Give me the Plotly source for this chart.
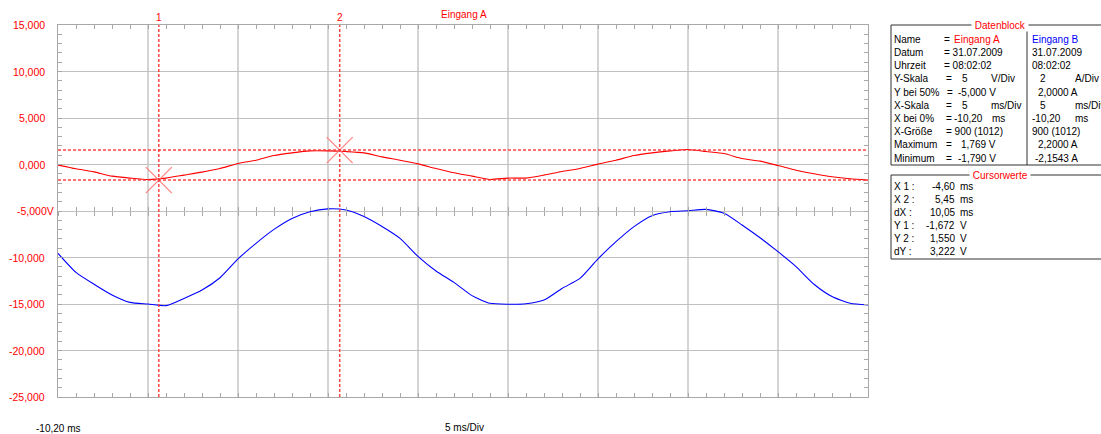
import plotly.graph_objects as go

# ---------------- data ----------------
time_ms = [round(-10.2 + k, 1) for k in range(46)]   # sample grid, 1 ms

ch_a_volt = [-0.07, -0.46, -0.79, -1.25, -1.46, -1.61, -1.46, -1.14, -0.82, -0.43,
             0.11, 0.46, 0.96, 1.25, 1.46, 1.46, 1.39, 1.25, 0.82, 0.46,
             0.07, -0.43, -0.89, -1.25, -1.61, -1.46, -1.46, -1.14, -0.75, -0.43,
             0.04, 0.46, 0.96, 1.25, 1.46, 1.61, 1.39, 1.18, 0.64, 0.36,
             -0.11, -0.61, -1.00, -1.32, -1.54, -1.68]

ch_b_amp = [0.18, -0.64, -1.15, -1.61, -1.93, -2.00, -2.07, -1.76, -1.40, -0.87,
            -0.06, 0.61, 1.21, 1.68, 1.97, 2.09, 2.04, 1.76, 1.33, 0.82,
            0.05, -0.58, -1.07, -1.64, -1.97, -2.01, -1.99, -1.83, -1.33, -0.90,
            -0.06, 0.68, 1.33, 1.80, 1.97, 2.01, 2.07, 1.90, 1.40, 0.85,
            0.25, -0.39, -1.15, -1.68, -1.97, -2.04]

cursor_x = [-4.60, 5.45]      # ms
cursor_y = [-1.672, 1.550]    # V
trigger_ms = 0.0

# scope settings
x_start, x_div, n_xdiv = -10.2, 5.0, 9
a_center, a_div = -5.0, 5.0      # V
b_center, b_div = 2.0, 2.0       # A
n_ydiv = 8

y_tick_vals = [15, 10, 5, 0, -5, -10, -15, -20, -25]
y_tick_text = ["15,000", "10,000", "5,000", "0,000", "-5,000V",
               "-10,000", "-15,000", "-20,000", "-25,000"]

data_labels = ["Name", "Datum", "Uhrzeit", "Y-Skala", "Y bei 50%", "X-Skala",
               "X bei 0%", "X-Größe", "Maximum", "Minimum"]
cursor_labels = ["X 1 :", "X 2 :", "dX :", "Y 1 :", "Y 2 :", "dY :"]

# ---------------- geometry helpers ----------------
W, H = 1101, 434
L, R, T, B = 58, 868, 25, 397
def px(x):
    return (x - L) / (R - L)
def py(y):
    return (B - y) / (B - T)

RED = "#ff0000"
BLUE = "#0000ff"
PINK = "#ff8080"
FONT = "Liberation Sans"
FS = 10

x_range = [x_start, x_start + n_xdiv * x_div]
a_range = [a_center - n_ydiv / 2 * a_div, a_center + n_ydiv / 2 * a_div]
b_range = [b_center - n_ydiv / 2 * b_div, b_center + n_ydiv / 2 * b_div]

fig = go.Figure()

# traces
fig.add_trace(go.Scatter(x=time_ms, y=ch_a_volt, mode="lines",
                         line=dict(color=RED, width=1.1, shape="spline", smoothing=0.6),
                         hoverinfo="skip", showlegend=False))
fig.add_trace(go.Scatter(x=time_ms, y=ch_b_amp, mode="lines", yaxis="y2",
                         line=dict(color=BLUE, width=1.1, shape="spline", smoothing=0.6),
                         hoverinfo="skip", showlegend=False))
# dummy traces for the centre tick axes
for ax in ["x2", "x3"]:
    fig.add_trace(go.Scatter(x=[None], y=[None], xaxis=ax, yaxis="y",
                             showlegend=False, hoverinfo="skip"))

# cursor crosses
fig.add_trace(go.Scatter(x=cursor_x, y=cursor_y, mode="markers",
                         marker=dict(symbol="x-thin-open", size=26, color=PINK,
                                     line=dict(color=PINK, width=1.2)),
                         hoverinfo="skip", showlegend=False))
# cursor top triangles
fig.add_trace(go.Scatter(x=cursor_x, y=[a_range[1] + 0.12] * 2, mode="markers",
                         marker=dict(symbol="triangle-down", size=5, color=RED),
                         cliponaxis=False, hoverinfo="skip", showlegend=False))
# trigger marker
fig.add_trace(go.Scatter(x=[trigger_ms], y=[a_range[0] - 0.36], mode="markers",
                         marker=dict(symbol="triangle-up", size=5, color="black"),
                         cliponaxis=False, hoverinfo="skip", showlegend=False))

shapes = []
dash_line = dict(color="rgba(255,50,50,0.9)", width=1.5, dash="3px,2px")
for cx in cursor_x:
    shapes.append(dict(type="line", xref="x", yref="paper", x0=cx, x1=cx,
                       y0=0, y1=1, line=dash_line))
for cy in cursor_y:
    shapes.append(dict(type="line", xref="paper", yref="y", x0=0, x1=1,
                       y0=cy, y1=cy, line=dash_line))

# info boxes
box_line = dict(color="#303030", width=1)
shapes.append(dict(type="rect", xref="paper", yref="paper", x0=px(891), x1=px(1130),
                   y0=py(165), y1=py(25), line=box_line))
shapes.append(dict(type="line", xref="paper", yref="paper", x0=px(1027), x1=px(1027),
                   y0=py(165), y1=py(26), line=box_line))
shapes.append(dict(type="rect", xref="paper", yref="paper", x0=px(891), x1=px(1130),
                   y0=py(259), y1=py(175), line=box_line))

ann = []
def text(x, y, s, color="black", anchor="left", size=FS, bg=None, xref="paper",
         yref="paper", xshift=0, yshift=0):
    d = dict(x=x, y=y, xref=xref, yref=yref, text=s, showarrow=False,
             xanchor=anchor, yanchor="middle", borderpad=0, xshift=xshift,
             yshift=yshift, font=dict(color=color, size=size, family=FONT))
    if bg:
        d["bgcolor"] = bg
    ann.append(d)

# y tick labels
for v, s in zip(y_tick_vals, y_tick_text):
    text(0, v, s, RED, "right", yref="y", xshift=-3 if s.endswith("V") else -12,
         size=10.5)

# x labels
text(px(58), py(428), "-10,20 ms", "black", "center")
text(px(464), py(427), "5 ms/Div", "black", "center")

# top labels
text(px(464), py(14), "Eingang A", RED, "center")
for i, cx in enumerate(cursor_x):
    text(cx, py(17.5), str(i + 1), RED, "center", xref="x")

# Datenblock
text(px(1000), py(25), " Datenblock ", RED, "center", bg="white")
row_y = [39.3 + 13.2 * i for i in range(10)]
for lab, y in zip(data_labels, row_y):
    text(px(893), py(y), lab)

def fmt(v, d):
    return f"{v:.{d}f}".replace(".", ",")

A = [  # (x, text, color)
    [(943, "=", "black"), (953, "Eingang A", RED)],
    [(943, "= 31.07.2009", "black")],
    [(943, "= 08:02:02", "black")],
    [(945, "=", "black"), (961, "5", "black"), (990, "V/Div", "black")],
    [(946, "=", "black"), (957, "-5,000 V", "black")],
    [(945, "=", "black"), (961, "5", "black"), (990, "ms/Div", "black")],
    [(945, "=", "black"), (953, "-10,20", "black"), (991, "ms", "black")],
    [(945, "= 900 (1012)", "black")],
    [(945, "=", "black"), (960, "1,769 V", "black")],
    [(945, "=", "black"), (957, "-1,790 V", "black")],
]
Bc = [
    [(1031, "Eingang B", BLUE)],
    [(1031, "31.07.2009", "black")],
    [(1031, "08:02:02", "black")],
    [(1039, "2", "black"), (1074, "A/Div", "black")],
    [(1037, "2,0000 A", "black")],
    [(1039, "5", "black"), (1074, "ms/Div", "black")],
    [(1031, "-10,20", "black"), (1074, "ms", "black")],
    [(1031, "900 (1012)", "black")],
    [(1037, "2,2000 A", "black")],
    [(1034, "-2,1543 A", "black")],
]
for y, segs in zip(row_y, A):
    for x, s, c in segs:
        text(px(x), py(y), s, c)
for y, segs in zip(row_y, Bc):
    for x, s, c in segs:
        text(px(x), py(y), s, c)

# Cursorwerte
text(px(1000), py(175), " Cursorwerte ", RED, "center", bg="white")
cur_vals = [fmt(cursor_x[0], 2), fmt(cursor_x[1], 2), fmt(cursor_x[1] - cursor_x[0], 2),
            fmt(cursor_y[0], 3), fmt(cursor_y[1], 3), fmt(cursor_y[1] - cursor_y[0], 3)]
cur_units = ["ms", "ms", "ms", "V", "V", "V"]
cur_y = [186.7 + 13.0 * i for i in range(6)]
for lab, v, u, y in zip(cursor_labels, cur_vals, cur_units, cur_y):
    text(px(893), py(y), lab)
    text(px(956), py(y), v, "black", "right")
    text(px(959), py(y), u)

tick_col = "#a8a8a8"
fig.update_layout(
    width=W, height=H,
    margin=dict(l=L, r=W - R, t=T, b=H - B, pad=0),
    paper_bgcolor="white", plot_bgcolor="white",
    font=dict(family=FONT, size=FS),
    showlegend=False,
    xaxis=dict(range=x_range, tick0=x_start, dtick=x_div, showgrid=True,
               gridcolor="#d4d4d4", gridwidth=1.6, ticks="inside", ticklen=4,
               tickcolor=tick_col, showticklabels=False, showline=True,
               linecolor=tick_col, linewidth=1, mirror="ticks", zeroline=False,
               minor=dict(tick0=x_start, dtick=1, ticks="inside", ticklen=4,
                          tickcolor=tick_col, showgrid=False)),
    xaxis2=dict(range=x_range, overlaying="x", anchor="free", position=0.5,
                side="bottom", tick0=x_start, dtick=1, ticks="outside", ticklen=4,
                tickcolor=tick_col, showline=False, showgrid=False,
                showticklabels=False, zeroline=False),
    xaxis3=dict(range=x_range, overlaying="x", anchor="free", position=0.5,
                side="bottom", tick0=x_start, dtick=1, ticks="inside", ticklen=4,
                tickcolor=tick_col, showline=False, showgrid=False,
                showticklabels=False, zeroline=False),
    yaxis=dict(range=a_range, tick0=a_range[0], dtick=a_div, showgrid=True,
               gridcolor="#c0c0c0", gridwidth=1, ticks="inside", ticklen=4,
               tickcolor=tick_col, showticklabels=False, showline=True,
               linecolor=tick_col, linewidth=1, mirror="ticks", zeroline=False,
               minor=dict(tick0=a_range[0], dtick=1, ticks="inside", ticklen=4,
                          tickcolor=tick_col, showgrid=False)),
    yaxis2=dict(range=b_range, overlaying="y", visible=False),
    shapes=shapes,
    annotations=ann,
)

fig.write_html("out.html", config={"displayModeBar": False},
               post_script="document.body.style.margin='0';"
                           "document.documentElement.style.overflow='hidden';")
